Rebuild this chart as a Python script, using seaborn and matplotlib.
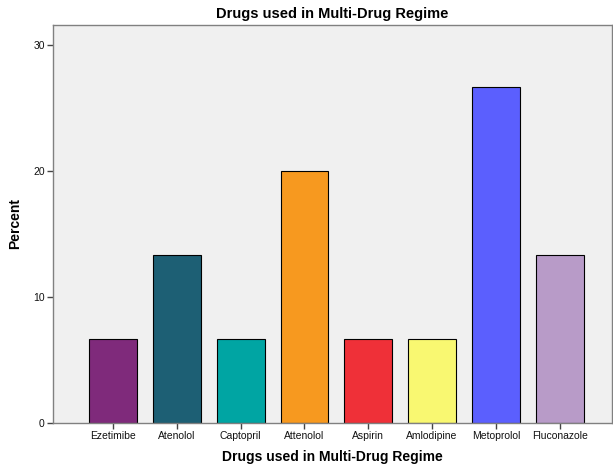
import matplotlib
matplotlib.use("Agg")
import matplotlib.pyplot as plt
import seaborn as sns
import pandas as pd

drugs = ["Ezetimibe", "Atenolol", "Captopril", "Attenolol", "Aspirin",
         "Amlodipine", "Metoprolol", "Fluconazole"]
percent = [6.67, 13.33, 6.67, 20.0, 6.67, 6.67, 26.67, 13.33]
colors = ["#7f2a7b", "#1d5f74", "#00a5a3", "#f7991f", "#ef3038",
          "#f9f871", "#5b5ffe", "#b89bc8"]

sns.set_style("white")
plt.rcParams["font.family"] = ["Liberation Sans", "DejaVu Sans"]

df = pd.DataFrame({"drug": drugs, "pct": percent})

fig = plt.figure(figsize=(6.13, 4.69), dpi=100)
ax = fig.add_axes([0.0865, 0.098, 0.912, 0.849])
ax.set_facecolor("#f0f0f0")

sns.barplot(data=df, x="drug", y="pct", hue="drug", palette=colors,
            saturation=1, width=0.75, edgecolor="black", linewidth=0.8,
            legend=False, ax=ax)

ax.set_xlim(-0.94, 7.82)
ax.set_ylim(0, 31.6)
ax.set_yticks([0, 10, 20, 30])
ax.tick_params(axis="both", direction="out", length=4, width=1,
               bottom=True, left=True, pad=2,
               color="#444444", labelsize=7.5, labelcolor="#111111")
for s in ax.spines.values():
    s.set_color("#808080")
    s.set_linewidth(1.0)

ax.set_xlabel("Drugs used in Multi-Drug Regime", fontsize=10,
              fontweight="bold", labelpad=6, color="black")
ax.set_ylabel("Percent", fontsize=10, fontweight="bold", labelpad=8,
              color="black")
ax.set_title("Drugs used in Multi-Drug Regime", fontsize=10.5,
             fontweight="bold", pad=5, color="black")

fig.savefig("out.png", dpi=100)
